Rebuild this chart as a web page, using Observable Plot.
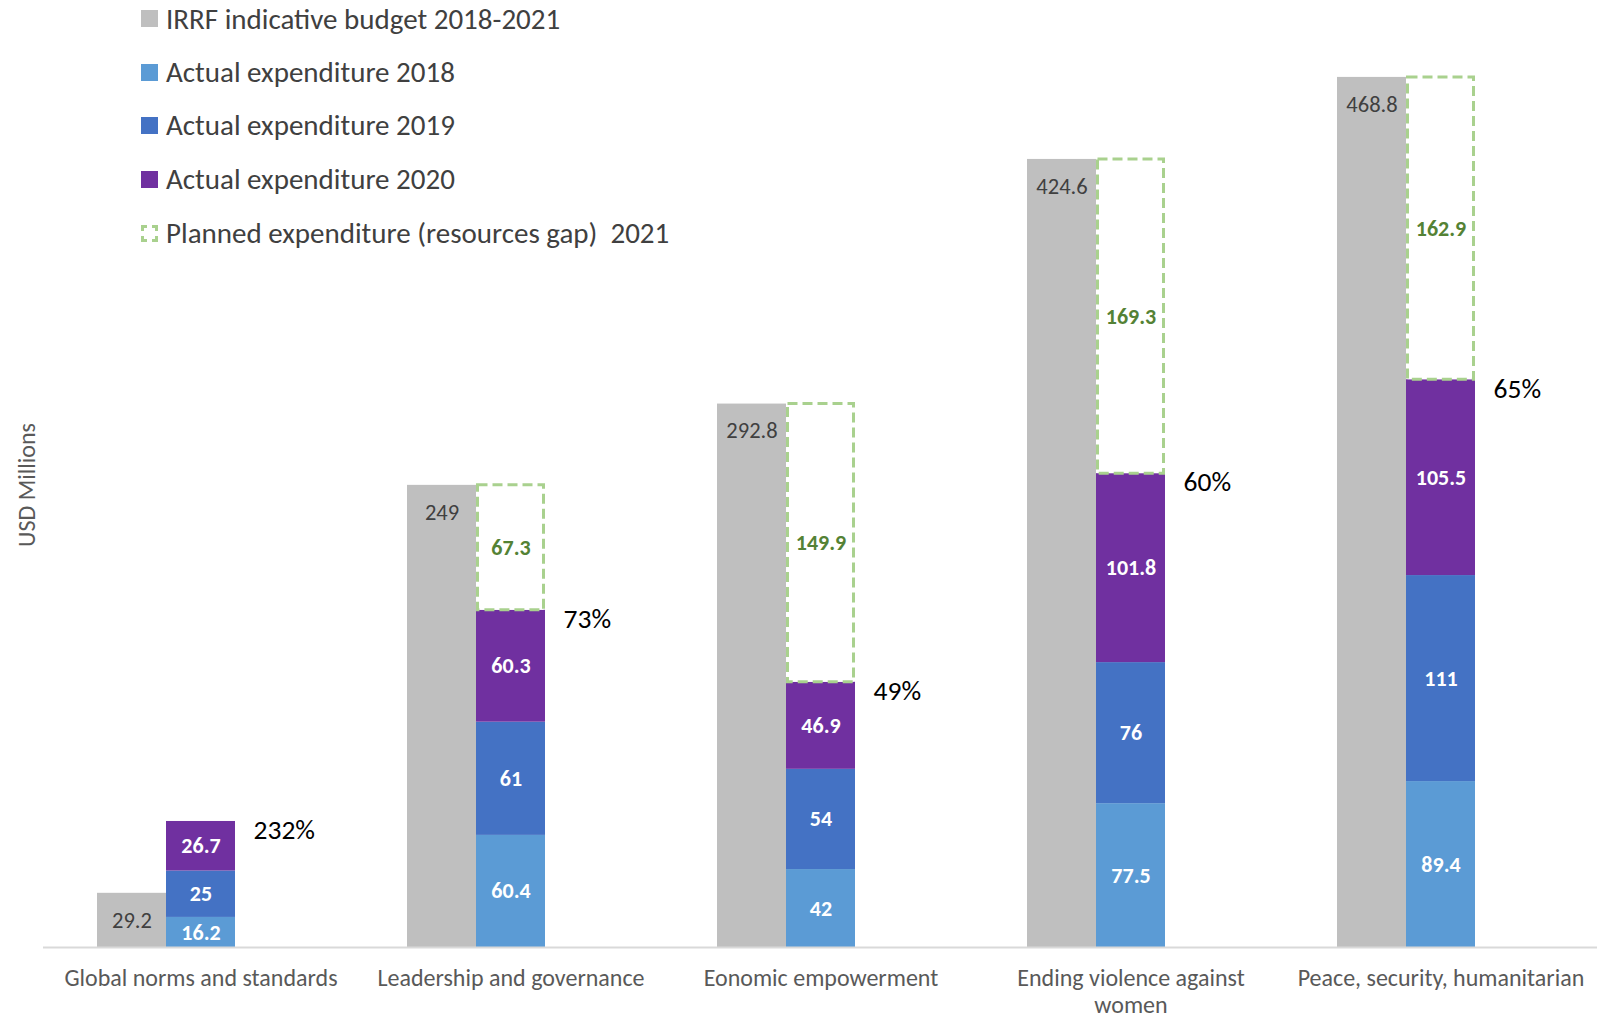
<!DOCTYPE html>
<html><head><meta charset="utf-8">
<script src="https://cdn.jsdelivr.net/npm/d3@7"></script>
<script src="https://cdn.jsdelivr.net/npm/@observablehq/plot@0.6"></script>
<style>
body{margin:0;background:#fff;font-family:Carlito,Calibri,Lato,sans-serif}
#wrap{position:relative;width:1606px;height:1019px;overflow:hidden}
#legend{position:absolute;left:141px;top:0}
.item{position:absolute;left:0;white-space:pre;font-size:29px;color:#404040;display:flex;align-items:center;height:34px}
.sw{display:inline-block;width:17px;height:17px;margin-right:8px;box-sizing:border-box;flex:none}
#ylab{position:absolute;left:26px;top:485px;transform:translate(-50%,-50%) rotate(-90deg);font-size:24px;color:#595959;white-space:nowrap}
</style></head>
<body><div id="wrap"><div id="chart"></div><div id="legend"></div><div id="ylab">USD Millions</div></div>
<script>
const categories = ["Global norms and standards","Leadership and governance","Eonomic empowerment","Ending violence against women","Peace, security, humanitarian"];
const categoryLabels = ["Global norms and standards","Leadership and governance","Eonomic empowerment","Ending violence against\nwomen","Peace, security, humanitarian"];
const budget = [29.2, 249, 292.8, 424.6, 468.8];
const exp2018 = [16.2, 60.4, 42, 77.5, 89.4];
const exp2019 = [25, 61, 54, 76, 111];
const exp2020 = [26.7, 60.3, 46.9, 101.8, 105.5];
const planned2021 = [null, 67.3, 149.9, 169.3, 162.9];
const percentLabels = ["232%", "73%", "49%", "60%", "65%"];
const seriesNames = ["IRRF indicative budget 2018-2021","Actual expenditure 2018","Actual expenditure 2019","Actual expenditure 2020","Planned expenditure (resources gap)  2021"];
const colors = ["#bfbfbf","#5b9bd5","#4472c4","#7030a0","#a9d18e"];

// build stacked rows
const stackRows = [];
const totals = [];
categories.forEach((c, i) => {
  let base = 0;
  [[exp2018, 1], [exp2019, 2], [exp2020, 3]].forEach(([arr, k]) => {
    const v = arr[i];
    stackRows.push({cat: c, k, value: v, y1: base, y2: base + v});
    base += v;
  });
  totals.push({cat: c, total: base, pct: percentLabels[i]});
  if (planned2021[i] != null) {
    stackRows.push({cat: c, k: 4, value: planned2021[i], y1: base, y2: base + planned2021[i]});
  }
});
const budgetRows = categories.map((c, i) => ({cat: c, value: budget[i]}));
const actualRows = stackRows.filter(d => d.k < 4);
const plannedRows = stackRows.filter(d => d.k === 4);
const labelMap = new Map(categories.map((c, i) => [c, categoryLabels[i]]));

const W = 1606, mL = 43, mR = 9;
const step = (W - mL - mR) / categories.length;
const bw = 69;
const pInner = 1 - bw / step;
const chart = Plot.plot({
  width: W, height: 1019,
  marginLeft: mL, marginRight: mR, marginTop: 19, marginBottom: 72,
  style: {fontFamily: "Carlito, Calibri, Lato, sans-serif", background: "#fff"},
  x: {domain: categories, paddingInner: pInner, paddingOuter: pInner / 2, axis: null},
  y: {domain: [0, 500], axis: null},
  marks: [
    Plot.barY(budgetRows, {x: "cat", y: "value", fill: colors[0], dx: -bw}),
    Plot.barY(actualRows, {x: "cat", y1: "y1", y2: "y2", fill: d => colors[d.k]}),
    Plot.barY(plannedRows, {x: "cat", y1: "y1", y2: "y2", fill: "white", stroke: colors[4], strokeWidth: 3, strokeDasharray: "10,5", insetLeft: 1.5, insetRight: 1.5}),
    Plot.ruleY([0], {stroke: "#d9d9d9", strokeWidth: 2}),
    Plot.axisX({tickSize: 0, tickPadding: 18.5, fontSize: 24, lineHeight: 1.15, color: "#595959", tickFormat: d => labelMap.get(d), label: null}),
    Plot.text(budgetRows, {x: "cat", y: "value", text: d => String(d.value), dx: -bw, dy: 27, fill: "#404040", fontSize: 22.5}),
    Plot.text(actualRows, {x: "cat", y: d => (d.y1 + d.y2) / 2, text: d => String(d.value), fill: "white", fontSize: 22, fontWeight: 600}),
    Plot.text(plannedRows, {x: "cat", y: d => (d.y1 + d.y2) / 2, text: d => String(d.value), fill: "#548235", fontSize: 22, fontWeight: 700}),
    Plot.text(totals, {x: "cat", y: "total", text: "pct", dx: bw / 2 + 18, dy: 9, textAnchor: "start", fill: "#000", fontSize: 27.5})
  ]
});
document.getElementById("chart").append(chart);

const legend = document.getElementById("legend");
const legendTops = [18.5, 72, 125, 179, 233];
seriesNames.forEach((s, i) => {
  const it = document.createElement("div");
  it.className = "item";
  it.style.top = (legendTops[i] - 17) + "px";
  const sw = document.createElement("span");
  sw.className = "sw";
  if (i === 4) { sw.style.border = "3px dashed " + colors[4]; }
  else sw.style.background = colors[i];
  it.append(sw, document.createTextNode(s));
  legend.append(it);
});
</script></body></html>
